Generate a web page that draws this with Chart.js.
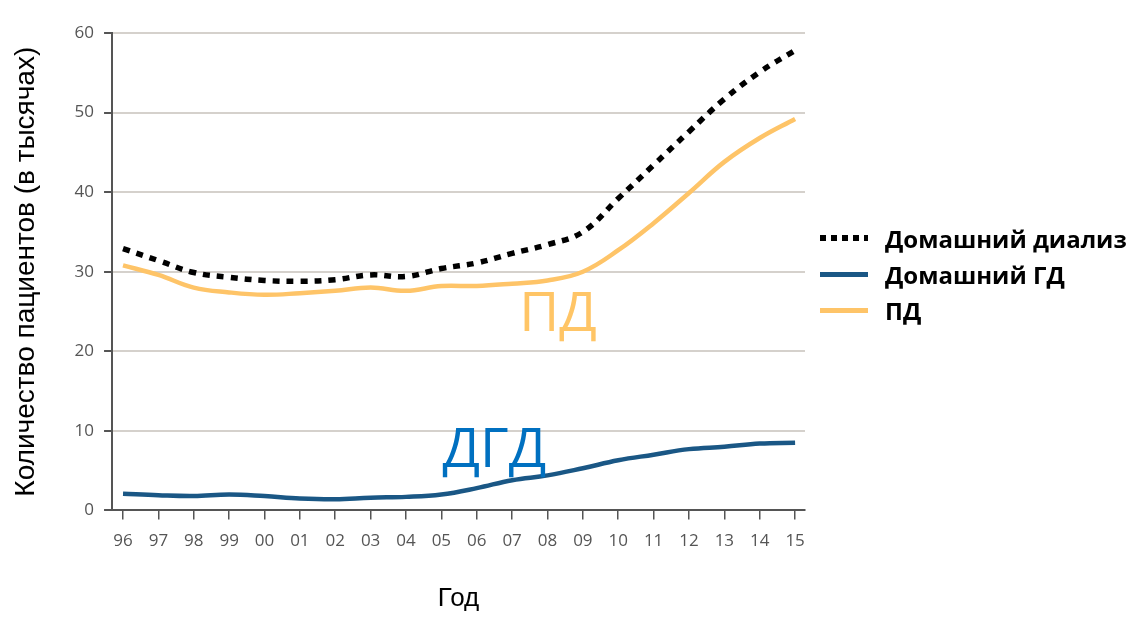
<!DOCTYPE html>
<html>
<head>
<meta charset="utf-8">
<script src="https://cdn.jsdelivr.net/npm/chart.js@4.4.1/dist/chart.umd.min.js"></script>
<style>
  html, body { margin: 0; padding: 0; background: #fff; }
  #wrap { position: relative; width: 1134px; height: 618px; }
  #legend { position: absolute; left: 820px; top: 220px; font-family: "Open Sans", sans-serif; font-weight: 700; font-size: 24px; color: #000; }
  #legend .row { display: flex; align-items: center; height: 36px; }
  #legend .swatch { width: 48px; height: 5px; margin-right: 17px; }
</style>
</head>
<body>
<div id="wrap">
  <canvas id="chart" width="1134" height="618"></canvas>
  <div id="legend"></div>
</div>
<script>
const years = ["96", "97", "98", "99", "00", "01", "02", "03", "04", "05",
  "06", "07", "08", "09", "10", "11", "12", "13", "14", "15"];

// thousands of patients
const homeDialysis = [32.9, 31.4, 29.9, 29.3, 28.9, 28.8, 29.0, 29.6, 29.4, 30.4,
  31.1, 32.3, 33.4, 35.0, 39.2, 43.4, 47.6, 51.7, 55.1, 57.8];
const homeHD = [2.1, 1.9, 1.8, 2.0, 1.8, 1.5, 1.4, 1.6, 1.7, 2.0,
  2.8, 3.8, 4.4, 5.3, 6.3, 7.0, 7.7, 8.0, 8.4, 8.5];
const pd = [30.8, 29.6, 28.0, 27.4, 27.1, 27.3, 27.6, 28.0, 27.6, 28.2,
  28.2, 28.5, 28.9, 30.0, 32.7, 36.1, 39.9, 43.8, 46.8, 49.2];

const yTicks = [0, 10, 20, 30, 40, 50, 60];

// big labels drawn in the plot (x = year index, y = value at baseline)
const notes = [
  { text: "ПД", x: 12.3, y: 22.6, color: "#ffc566" },
  { text: "ДГД", x: 10.5, y: 5.5, color: "#0070c0" },
];

const toPoints = (vals) => vals.map((v, i) => ({ x: i, y: v }));

const series = [
  { label: "Домашний диализ", data: homeDialysis, color: "#000000", dash: [7, 7], width: 5.5 },
  { label: "Домашний ГД", data: homeHD, color: "#1a5785", dash: [], width: 4.5 },
  { label: "ПД", data: pd, color: "#fec468", dash: [], width: 4.5 },
];

const notesPlugin = {
  id: "notes",
  afterDatasetsDraw(chart) {
    const { ctx, scales } = chart;
    ctx.save();
    ctx.font = '55px "Open Sans", sans-serif';
    ctx.textAlign = "center";
    ctx.textBaseline = "alphabetic";
    notes.forEach((n) => {
      ctx.fillStyle = n.color;
      ctx.fillText(n.text, scales.x.getPixelForValue(n.x), scales.y.getPixelForValue(n.y));
    });
    ctx.restore();
  },
};

const ctx = document.getElementById("chart").getContext("2d");
new Chart(ctx, {
  type: "line",
  data: {
    datasets: series.map((s) => ({
      label: s.label,
      data: toPoints(s.data),
      borderColor: s.color,
      backgroundColor: s.color,
      borderWidth: s.width,
      borderDash: s.dash,
      borderCapStyle: "butt",
      pointRadius: 0,
      tension: 0.4,
      fill: false,
    })),
  },
  options: {
    responsive: false,
    animation: false,
    layout: { padding: { top: 33, right: 329, left: 0, bottom: 0 } },
    plugins: {
      legend: { display: false },
      tooltip: { enabled: false },
    },
    scales: {
      x: {
        type: "linear",
        min: -0.31,
        max: 19.28,
        border: { color: "#555", width: 2 },
        grid: { drawOnChartArea: false, tickLength: 9, tickColor: "#555", lineWidth: 1.5 },
        ticks: {
          stepSize: 1,
          includeBounds: false,
          autoSkip: false,
          maxRotation: 0,
          padding: 12,
          color: "#555",
          font: { family: "Open Sans", size: 17 },
          callback: (v) => years[v],
        },
        title: {
          display: true,
          text: "Год",
          color: "#000",
          font: { family: "Liberation Sans", size: 26 },
          padding: { top: 19, bottom: 4 },
        },
      },
      y: {
        min: 0,
        max: 60,
        border: { color: "#555", width: 2 },
        grid: { color: "#d5d1cc", lineWidth: 2, tickLength: 8, tickColor: "#555" },
        afterBuildTicks: (axis) => { axis.ticks = yTicks.map((v) => ({ value: v })); },
        ticks: {
          padding: 10,
          color: "#555",
          font: { family: "Open Sans", size: 17 },
        },
        title: {
          display: true,
          text: "Количество пациентов (в тысячах)",
          color: "#000",
          font: { family: "Liberation Sans", size: 28 },
          padding: { top: 9, bottom: 22 },
        },
      },
    },
  },
  plugins: [notesPlugin],
});

// legend at the right, outside the plot
const legend = document.getElementById("legend");
series.forEach((s) => {
  const row = document.createElement("div");
  row.className = "row";
  const sw = document.createElement("div");
  sw.className = "swatch";
  if (s.dash.length) {
    sw.style.background = "repeating-linear-gradient(90deg, " + s.color + " 0 6px, transparent 6px 11px)";
    sw.style.height = "6px";
  } else {
    sw.style.background = s.color;
  }
  const txt = document.createElement("span");
  txt.textContent = s.label;
  row.appendChild(sw);
  row.appendChild(txt);
  legend.appendChild(row);
});
</script>
</body>
</html>
